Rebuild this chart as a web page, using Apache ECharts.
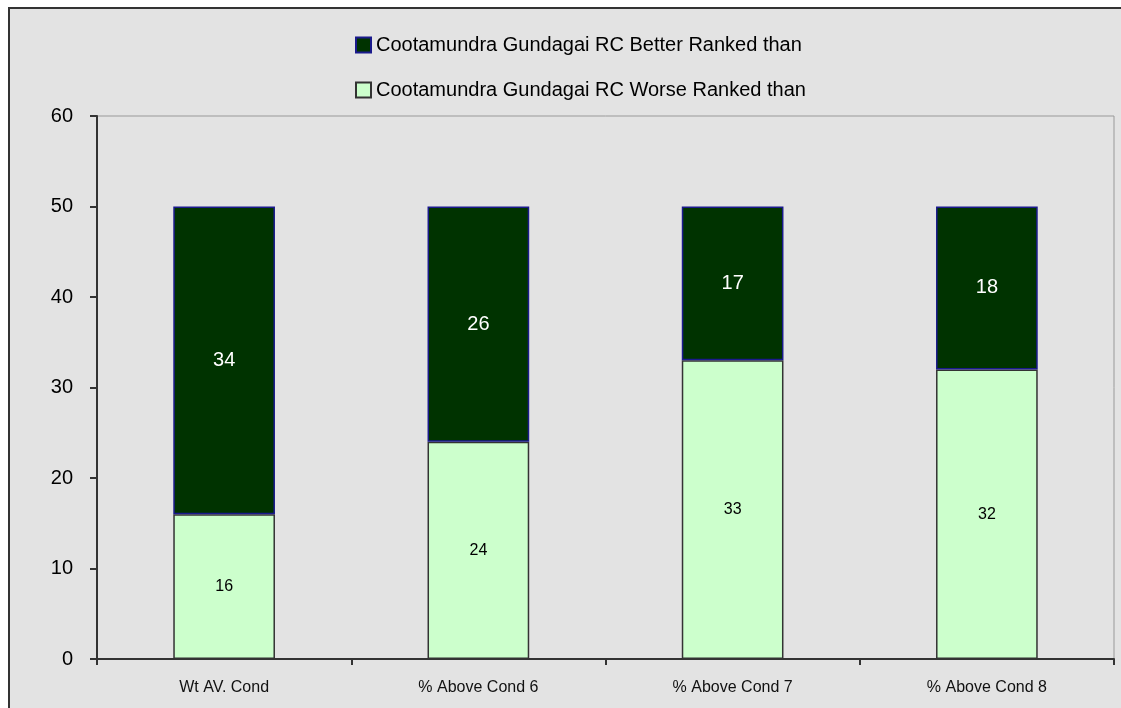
<!DOCTYPE html>
<html>
<head>
<meta charset="utf-8">
<script src="https://cdn.jsdelivr.net/npm/echarts@6/dist/echarts.min.js"></script>
<style>
  html, body { margin: 0; padding: 0; background: #ffffff; }
  #chart-container { width: 1121px; height: 708px; }
</style>
</head>
<body>
<div id="chart-container"></div>
<script>
var dom = document.getElementById("chart-container");
var myChart = echarts.init(dom, null, { renderer: "canvas" });

const categories = ["Wt AV. Cond", "% Above Cond 6", "% Above Cond 7", "% Above Cond 8"];
const worseRanked = [16, 24, 33, 32];
const betterRanked = [34, 26, 17, 18];
const seriesNames = [
  "Cootamundra Gundagai RC Better Ranked than",
  "Cootamundra Gundagai RC Worse Ranked than",
];

const fontFamily = "Liberation Sans, Arial, sans-serif";

var option = {
  backgroundColor: "#ffffff",
  animation: false,
  graphic: [
    {
      type: "rect",
      left: 8,
      top: 7,
      shape: { width: 1130, height: 720 },
      style: { fill: "#e3e3e3", stroke: "#333333", lineWidth: 2 },
      z: -10,
      silent: true,
    },
  ],
  legend: {
    orient: "vertical",
    left: 350,
    top: 30,
    itemWidth: 15,
    itemHeight: 15,
    itemGap: 25,
    icon: "rect",
    data: seriesNames,
    textStyle: { color: "#000", fontSize: 20, fontFamily: fontFamily },
  },
  grid: {
    left: 97,
    right: 7,
    top: 116,
    bottom: 49,
    show: true,
    borderColor: "#999999",
    borderWidth: 1,
    backgroundColor: "transparent",
  },
  xAxis: {
    type: "category",
    data: categories,
    axisLine: { lineStyle: { color: "#333333", width: 2 } },
    axisTick: { show: true, length: 6, lineStyle: { color: "#333333", width: 2 } },
    axisLabel: { color: "#111", fontSize: 16, margin: 21, fontFamily: fontFamily },
  },
  yAxis: {
    type: "value",
    min: 0,
    max: 60,
    interval: 10,
    axisLine: { show: true, lineStyle: { color: "#333333", width: 2 } },
    axisTick: { show: true, length: 7, lineStyle: { color: "#333333", width: 2 } },
    axisLabel: { color: "#000", fontSize: 20, margin: 24, fontFamily: fontFamily },
    splitLine: { show: false },
  },
  series: [
    {
      name: seriesNames[1],
      type: "bar",
      stack: "total",
      barWidth: "40%",
      data: worseRanked,
      itemStyle: { color: "#ccffcc", borderColor: "#333333", borderWidth: 1.5 },
      label: {
        show: true,
        position: "inside",
        color: "#000",
        fontSize: 16,
        fontFamily: fontFamily,
      },
    },
    {
      name: seriesNames[0],
      type: "bar",
      stack: "total",
      barWidth: "40%",
      data: betterRanked,
      itemStyle: { color: "#003300", borderColor: "#1a1a8c", borderWidth: 1.5 },
      label: {
        show: true,
        position: "inside",
        color: "#ffffff",
        fontSize: 20,
        fontFamily: fontFamily,
      },
    },
  ],
};

myChart.setOption(option);
window.addEventListener("resize", myChart.resize);
</script>
</body>
</html>
